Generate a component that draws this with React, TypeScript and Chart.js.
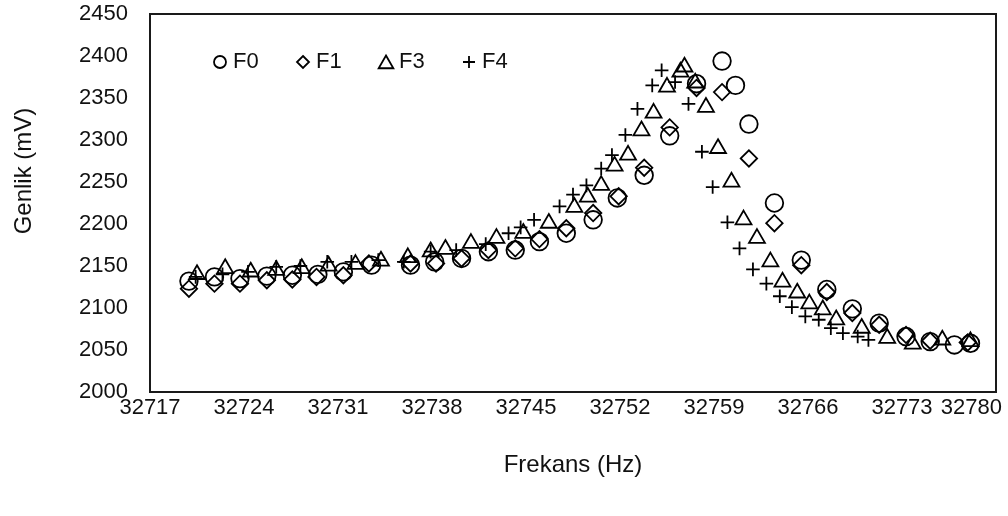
import React, { useEffect, useRef } from 'react';
import { Chart, registerables } from 'chart.js';

Chart.register(...registerables);

// Resonance sweep readings: frequency (Hz) against amplitude (mV)
const f0Freq = [
  32719.9, 32721.8, 32723.7, 32725.7, 32727.6, 32729.5, 32731.4, 32733.5,
  32736.4, 32738.2, 32740.2, 32742.2, 32744.2, 32746.0, 32748.0, 32750.0,
  32751.8, 32753.8, 32755.7, 32757.7, 32759.6, 32760.6, 32761.6, 32763.5,
  32765.5, 32767.4, 32769.3, 32771.3, 32773.3, 32775.1, 32776.9, 32778.1,
];
const f0Amp = [
  2132, 2137, 2135, 2138, 2139, 2140, 2143, 2151,
  2151, 2155, 2159, 2167, 2169, 2179, 2189, 2205,
  2231, 2258, 2305, 2367, 2394, 2365, 2319, 2225,
  2157, 2122, 2099, 2082, 2066, 2060, 2056, 2058,
];

const f1Freq = [
  32719.9, 32721.8, 32723.7, 32725.7, 32727.6, 32729.4, 32731.4, 32733.3,
  32736.4, 32738.3, 32740.2, 32742.2, 32744.2, 32746.0, 32748.0, 32750.0,
  32751.9, 32753.8, 32755.7, 32757.7, 32759.6, 32761.6, 32763.5, 32765.5,
  32767.4, 32769.3, 32771.3, 32773.3, 32775.1, 32777.9,
];
const f1Amp = [
  2123, 2129, 2129, 2133, 2134, 2137, 2139, 2153,
  2153, 2153, 2159, 2169, 2171, 2182, 2195, 2213,
  2233, 2267, 2315, 2362, 2357, 2278, 2201, 2151,
  2119, 2094, 2080, 2068, 2061, 2059,
];

const f3Freq = [
  32720.5, 32722.6, 32724.5, 32726.4, 32728.3, 32730.3, 32732.3, 32734.2,
  32736.2, 32737.9, 32739.0, 32740.9, 32742.8, 32744.8, 32746.7, 32748.6,
  32749.6, 32750.6, 32751.6, 32752.6, 32753.6, 32754.5, 32755.5, 32756.5,
  32756.8, 32757.6, 32758.4, 32759.3, 32760.3, 32761.2, 32762.2, 32763.2,
  32764.1, 32765.2, 32766.1, 32767.1, 32768.1, 32770.0, 32771.9, 32773.8,
  32776.0, 32778.1,
];
const f3Amp = [
  2140, 2147, 2143, 2145, 2147, 2150, 2152, 2156,
  2160, 2167, 2170, 2177, 2183, 2189, 2201, 2220,
  2232, 2246, 2269, 2282, 2311, 2332, 2363, 2381,
  2387, 2368, 2339, 2290, 2250, 2205, 2183, 2155,
  2131, 2118, 2105, 2098, 2086, 2076, 2064, 2057,
  2062, 2060,
];

const f4Freq = [
  32720.4, 32722.4, 32724.3, 32726.4, 32728.2, 32730.2, 32732.0, 32734.0,
  32735.9, 32737.9, 32739.8, 32742.0, 32743.7, 32744.6, 32745.6, 32747.5,
  32748.5, 32749.5, 32750.6, 32751.4, 32752.4, 32753.3, 32754.4, 32755.1,
  32756.1, 32757.1, 32758.1, 32758.9, 32760.0, 32760.9, 32761.9, 32762.9,
  32763.9, 32764.8, 32765.8, 32766.8, 32767.7, 32768.6, 32769.7, 32770.5,
];
const f4Amp = [
  2137, 2140, 2143, 2149, 2150, 2155, 2155, 2157,
  2155, 2167, 2169, 2176, 2189, 2196, 2205, 2221,
  2235, 2246, 2266, 2282, 2306, 2337, 2365, 2383,
  2369, 2343, 2286, 2244, 2202, 2171, 2146, 2129,
  2114, 2101, 2090, 2086, 2076, 2070, 2066, 2062,
];

const seriesNames = ['F0', 'F1', 'F3', 'F4'];
const xTicks = [32717, 32724, 32731, 32738, 32745, 32752, 32759, 32766, 32773, 32780];
const yTicks = [2000, 2050, 2100, 2150, 2200, 2250, 2300, 2350, 2400, 2450];
const xTitle = 'Frekans (Hz)';
const yTitle = 'Genlik (mV)';

const FONT = '"Liberation Sans", Arial, sans-serif';
const INK = '#111111';

const toPoints = (xs: number[], ys: number[]) => xs.map((x, i) => ({ x, y: ys[i] }));

type MarkerStyle = 'circle' | 'rectRot' | 'triangle' | 'cross';

// Small hollow marker used for the legend keys
function drawKey(ctx: CanvasRenderingContext2D, style: MarkerStyle, x: number, y: number) {
  ctx.beginPath();
  if (style === 'circle') {
    ctx.arc(x, y, 6, 0, Math.PI * 2);
  } else if (style === 'rectRot') {
    const r = 6;
    ctx.moveTo(x, y - r);
    ctx.lineTo(x + r, y);
    ctx.lineTo(x, y + r);
    ctx.lineTo(x - r, y);
    ctx.closePath();
  } else if (style === 'triangle') {
    const r = 8.5;
    const cy = y + 2;
    ctx.moveTo(x, cy - r);
    ctx.lineTo(x + r * Math.sin((2 * Math.PI) / 3), cy + r / 2);
    ctx.lineTo(x - r * Math.sin((2 * Math.PI) / 3), cy + r / 2);
    ctx.closePath();
  } else {
    const r = 6;
    ctx.moveTo(x - r, y);
    ctx.lineTo(x + r, y);
    ctx.moveTo(x, y - r);
    ctx.lineTo(x, y + r);
  }
  ctx.stroke();
}

// Frame, x tick labels, rotated y title and the inline legend
const decorations = {
  id: 'decorations',
  afterDraw(chart: any) {
    const { ctx, chartArea: a, scales } = chart;
    ctx.save();
    ctx.strokeStyle = '#1a1a1a';
    ctx.lineWidth = 2;
    ctx.strokeRect(a.left, a.top, a.right - a.left, a.bottom - a.top);

    ctx.fillStyle = INK;
    ctx.font = `22px ${FONT}`;
    ctx.textAlign = 'center';
    ctx.textBaseline = 'middle';
    const xs = scales.x;
    xTicks.forEach((v) => {
      const label = String(v);
      const w = ctx.measureText(label).width;
      const cx = Math.min(xs.getPixelForValue(v), chart.width - 6 - w / 2);
      ctx.fillText(label, cx, a.bottom + 16);
    });

    ctx.save();
    ctx.translate(24, 171);
    ctx.rotate(-Math.PI / 2);
    ctx.font = `24px ${FONT}`;
    ctx.fillText(yTitle, 0, 0);
    ctx.restore();

    ctx.lineWidth = 1.8;
    ctx.strokeStyle = '#000';
    ctx.textAlign = 'left';
    ctx.font = `22px ${FONT}`;
    chart.data.datasets.forEach((ds: any, i: number) => {
      const mx = a.left + 70 + i * 83;
      const my = 62;
      drawKey(ctx, ds.pointStyle, mx, my);
      ctx.fillText(ds.label, mx + 13, my);
    });
    ctx.restore();
  },
};

export default function App() {
  const canvasRef = useRef<HTMLCanvasElement | null>(null);

  useEffect(() => {
    const canvas = canvasRef.current;
    if (!canvas) return;

    const styles: MarkerStyle[] = ['circle', 'rectRot', 'triangle', 'cross'];
    const radii = [8.8, 8.2, 9.2, 6.8];
    const series = [
      toPoints(f0Freq, f0Amp),
      toPoints(f1Freq, f1Amp),
      toPoints(f3Freq, f3Amp),
      toPoints(f4Freq, f4Amp),
    ];

    const chart = new Chart(canvas, {
      type: 'scatter',
      data: {
        datasets: series.map((data, i) => ({
          label: seriesNames[i],
          data,
          pointStyle: styles[i],
          pointRadius: radii[i],
          pointBorderWidth: 1.8,
          pointBorderColor: '#000',
          pointBackgroundColor: 'rgba(0,0,0,0)',
          showLine: false,
        })),
      },
      options: {
        animation: false,
        responsive: false,
        devicePixelRatio: 1,
        events: [],
        layout: { padding: { left: 0, top: 14, right: 12, bottom: 0 } },
        plugins: {
          legend: { display: false },
          tooltip: { enabled: false },
        },
        scales: {
          x: {
            type: 'linear',
            min: 32717,
            max: 32780,
            grid: { display: false, drawTicks: false },
            border: { display: false },
            ticks: { display: false },
            afterBuildTicks: (s: any) => {
              s.ticks = xTicks.map((value) => ({ value }));
            },
            afterFit: (s: any) => {
              s.height = 124;
              s.paddingLeft = 0;
              s.paddingRight = 0;
            },
            title: {
              display: true,
              text: xTitle,
              color: INK,
              font: { family: FONT, size: 24 },
              padding: { top: 0, bottom: 36 },
            },
          },
          y: {
            type: 'linear',
            min: 2000,
            max: 2450,
            grid: { display: false, drawTicks: false },
            border: { display: false },
            ticks: {
              color: INK,
              font: { family: FONT, size: 22 },
              padding: 22,
              autoSkip: false,
              callback: (v: any) => String(v),
            },
            afterBuildTicks: (s: any) => {
              s.ticks = yTicks.map((value) => ({ value }));
            },
            afterFit: (s: any) => {
              s.width = 150;
              s.paddingTop = 0;
              s.paddingBottom = 0;
            },
          },
        },
      },
      plugins: [decorations],
    });

    return () => chart.destroy();
  }, []);

  return (
    <div style={{ position: 'absolute', left: 0, top: 0, width: 1008, height: 516, background: '#fff' }}>
      <canvas ref={canvasRef} width={1008} height={516} style={{ display: 'block' }} />
    </div>
  );
}
